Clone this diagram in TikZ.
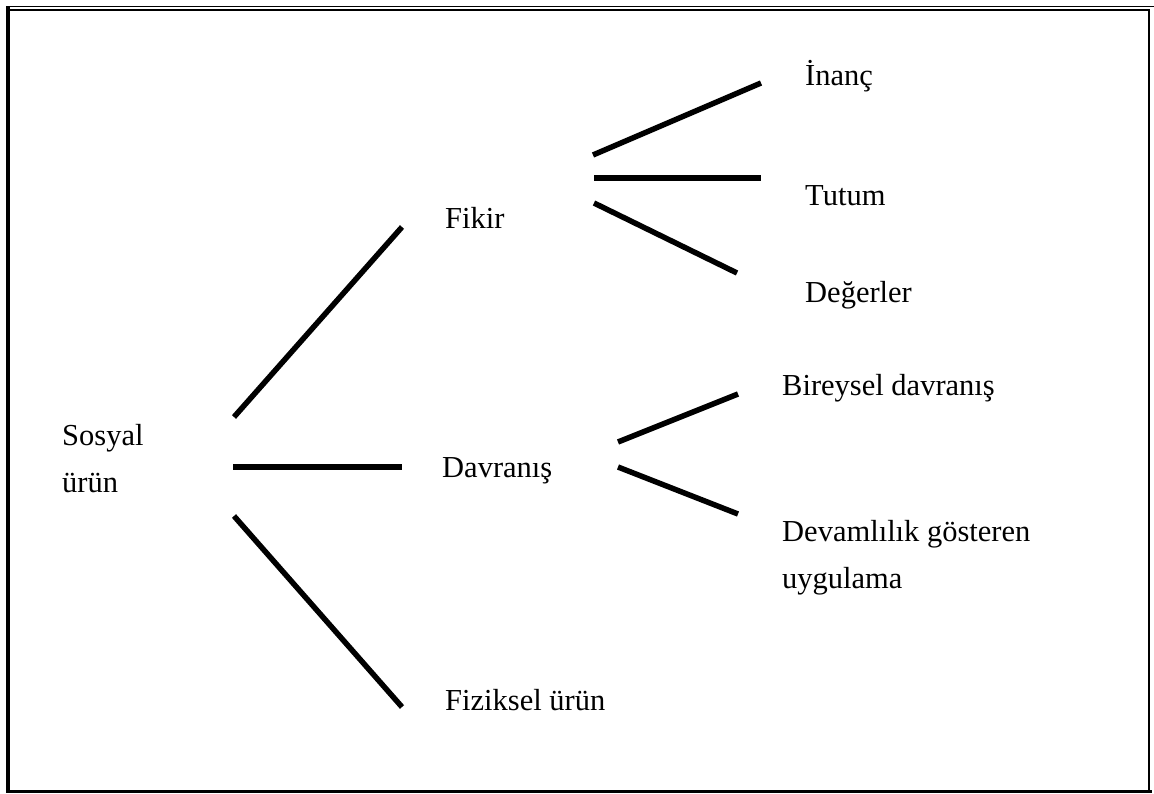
\documentclass[tikz,border=0pt]{standalone}
\usepackage{fontspec}
\setmainfont{Liberation Serif}
\begin{document}
\begin{tikzpicture}[x=1pt,y=-1pt,
  lbl/.style={anchor=base west,inner sep=0pt,font=\fontsize{30.5}{46.5}\selectfont},
  branch/.style={line width=5.5pt},
  frame/.style={fill=black}]
\useasboundingbox (0,0) rectangle (1154,793);
% frame
\fill[frame] (6,6) rectangle (10,793);
\fill[frame] (6,5.6) rectangle (1154,6.8);
\fill[frame] (6,8.7) rectangle (1150,10.7);
\fill[frame] (1148,8.7) rectangle (1150,793);
\fill[frame] (6,789.7) rectangle (1152,793);
% labels
\node[lbl] (sosyal) at (62,445) {Sosyal};
\node[lbl] (urun) at (62,492) {ürün};
\node[lbl] (fikir) at (445,228) {Fikir};
\node[lbl] (davranis) at (442,477) {Davranış};
\node[lbl] (fiziksel) at (445,710) {Fiziksel ürün};
\node[lbl] (inanc) at (805,85) {İnanç};
\node[lbl] (tutum) at (805,205) {Tutum};
\node[lbl] (degerler) at (805,302) {Değerler};
\node[lbl] (bireysel) at (782,395) {Bireysel davranış};
\node[lbl] (devam) at (782,541) {Devamlılık gösteren};
\node[lbl] (uygulama) at (782,588) {uygulama};
% connector end points
\coordinate (s1) at (234,417);
\coordinate (s2) at (233,467);
\coordinate (s3) at (234,516);
\coordinate (f0) at (402,227);
\coordinate (d0) at (402,467);
\coordinate (z0) at (402,707);
\coordinate (fa) at (593,155);
\coordinate (fb) at (594,178);
\coordinate (fc) at (594,203);
\coordinate (i0) at (761,83);
\coordinate (t0) at (761,178);
\coordinate (g0) at (737,273);
\coordinate (da) at (618,442);
\coordinate (db) at (618,467);
\coordinate (b0) at (738,394);
\coordinate (v0) at (738,514);
% connectors
\draw[branch] (s1) -- (f0);
\draw[branch] (s2) -- (d0);
\draw[branch] (s3) -- (z0);
\draw[branch] (fa) -- (i0);
\draw[branch] (fb) -- (t0);
\draw[branch] (fc) -- (g0);
\draw[branch] (da) -- (b0);
\draw[branch] (db) -- (v0);
\end{tikzpicture}
\end{document}
